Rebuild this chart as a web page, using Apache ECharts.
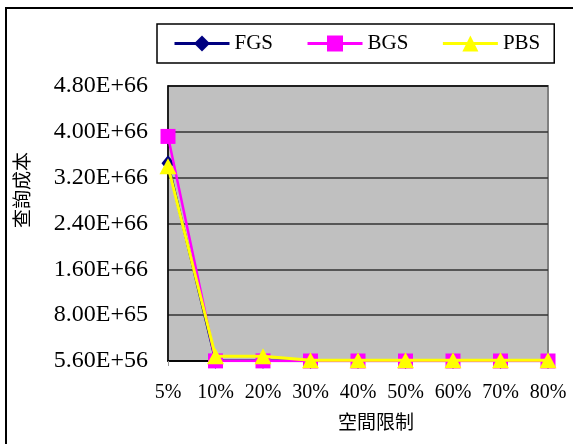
<!DOCTYPE html>
<html>
<head>
<meta charset="utf-8">
<script src="https://cdn.jsdelivr.net/npm/echarts@6/dist/echarts.min.js"></script>
<style>html,body{margin:0;padding:0;background:#fff;}#c{width:573px;height:444px;}</style>
</head>
<body>
<div id="c"></div>
<script>
var categories = ['5%','10%','20%','30%','40%','50%','60%','70%','80%'];
var fgs = [3.45e66, 4.0e63, 3.0e63, 1.0e62, 1.0e62, 1.0e62, 1.0e62, 1.0e62, 1.0e62];
var bgs = [3.92e66, 2.0e63, 2.0e63, 1.0e62, 1.0e62, 1.0e62, 1.0e62, 1.0e62, 1.0e62];
var pbs = [3.40e66, 8.2e64, 8.2e64, 1.5e64, 1.5e64, 1.5e64, 1.5e64, 1.5e64, 1.5e64];
var yTickLabels = ['5.60E+56','8.00E+65','1.60E+66','2.40E+66','3.20E+66','4.00E+66','4.80E+66'];
var yStep = 8e65;
var yMax = 4.8e66;

var chart = echarts.init(document.getElementById('c'), null, {renderer:'canvas'});
var serif = 'Liberation Serif';
var cjk = '"Noto Sans CJK TC", "Noto Sans CJK SC", sans-serif';
chart.setOption({
  backgroundColor: '#ffffff',
  animation: false,
  grid: {
    left: 168, right: 25, top: 86, bottom: 83,
    show: true, backgroundColor: '#c0c0c0', borderColor: '#808080', borderWidth: 2
  },
  legend: {
    left: 157, top: 24,
    padding: [9, 14, 9, 16],
    itemGap: 33,
    itemWidth: 55, itemHeight: 20,
    borderColor: '#000', borderWidth: 1.5,
    backgroundColor: '#fff',
    lineStyle: { width: 3 },
    textStyle: { fontFamily: serif, fontSize: 21, color: '#000' },
    data: ['FGS','BGS','PBS']
  },
  xAxis: {
    type: 'category',
    data: categories,
    boundaryGap: false,
    axisLine: { lineStyle: { color: '#000', width: 1.5 } },
    axisTick: { show: true, length: 5, interval: 0, lineStyle: { color: '#999' } },
    axisLabel: { fontFamily: serif, fontSize: 20, color: '#000', margin: 22, interval: 0 },
    splitLine: { show: false }
  },
  yAxis: {
    type: 'value',
    min: 0, max: yMax, interval: yStep,
    axisLine: { show: true, lineStyle: { color: '#000', width: 1.5 } },
    axisTick: { show: false },
    axisLabel: {
      fontFamily: serif, fontSize: 24, color: '#000', margin: 20,
      formatter: function (v) { return yTickLabels[Math.round(v / yStep)] || ''; }
    },
    splitLine: { show: true, lineStyle: { color: ['#000','#333','#333','#333','#333','#333','#808080'], width: 1.5 } }
  },
  graphic: [
    { type: 'rect', shape: { x: 6, y: 8, width: 700, height: 600 }, style: { fill: 'none', stroke: '#000', lineWidth: 2 }, z: 100 },
    { type: 'text', x: 22, y: 190, rotation: Math.PI / 2,
      style: { text: '查詢成本', font: '19px ' + cjk, fill: '#000', textAlign: 'center', textVerticalAlign: 'middle' } },
    { type: 'text', x: 376, y: 422,
      style: { text: '空間限制', font: '19px ' + cjk, fill: '#000', textAlign: 'center', textVerticalAlign: 'middle' } }
  ],
  series: [
    { name: 'FGS', type: 'line', data: fgs, symbol: 'diamond', symbolSize: [13, 16],
      itemStyle: { color: '#000080' }, lineStyle: { color: '#000080', width: 2.5 }, z: 3 },
    { name: 'BGS', type: 'line', data: bgs, symbol: 'rect', symbolSize: 15,
      itemStyle: { color: '#ff00ff' }, lineStyle: { color: '#ff00ff', width: 2.5 }, z: 4 },
    { name: 'PBS', type: 'line', data: pbs, symbol: 'triangle', symbolSize: [17, 16],
      itemStyle: { color: '#ffff00' }, lineStyle: { color: '#ffff00', width: 3 }, z: 5 }
  ]
});
</script>
</body>
</html>
